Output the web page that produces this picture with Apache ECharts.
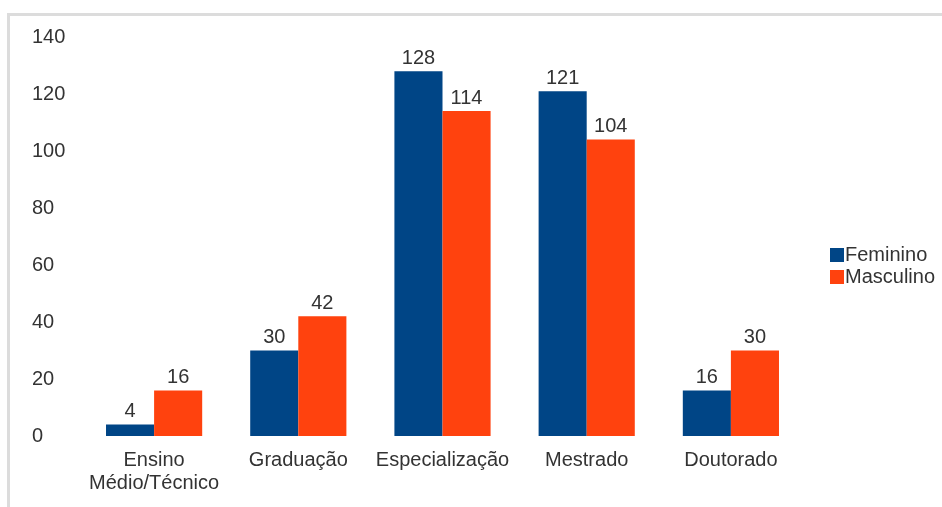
<!DOCTYPE html>
<html>
<head>
<meta charset="utf-8">
<script src="https://cdn.jsdelivr.net/npm/echarts@6/dist/echarts.min.js"></script>
<style>
html,body{margin:0;padding:0;background:#fff;}
#chart{width:942px;height:507px;}
</style>
</head>
<body>
<div id="chart"></div>
<script>
const categories = ['Ensino\nMédio/Técnico', 'Graduação', 'Especialização', 'Mestrado', 'Doutorado'];
const feminino = [4, 30, 128, 121, 16];
const masculino = [16, 42, 114, 104, 30];
const seriesNames = ['Feminino', 'Masculino'];

const font = 'Liberation Sans, Arial, sans-serif';
const fs = 20;
const chart = echarts.init(document.getElementById('chart'), null, {renderer: 'canvas'});
const labelStyle = {show: true, position: 'top', distance: 3, color: '#333', fontSize: fs, fontFamily: font};
chart.setOption({
  animation: false,
  backgroundColor: '#fff',
  graphic: [{
    type: 'polyline',
    shape: {points: [[8.5, 507], [8.5, 14.5], [942, 14.5]]},
    style: {stroke: '#dcdcdc', lineWidth: 3, fill: null},
    silent: true
  }],
  grid: {left: 82, right: 139, top: 37, bottom: 71, containLabel: false},
  legend: {
    orient: 'vertical', left: 825, top: 240,
    itemWidth: 14, itemHeight: 14, itemGap: 2,
    icon: 'rect',
    textStyle: {color: '#333', fontSize: fs, fontFamily: font, lineHeight: 20, padding: [0, 0, 0, -4]},
    data: seriesNames
  },
  xAxis: {
    type: 'category', data: categories,
    axisLine: {show: false}, axisTick: {show: false},
    axisLabel: {color: '#333', fontSize: fs, fontFamily: font, lineHeight: 23, margin: 13, interval: 0}
  },
  yAxis: {
    type: 'value', min: 0, max: 140, interval: 20,
    splitLine: {show: false}, axisLine: {show: false}, axisTick: {show: false},
    axisLabel: {color: '#333', fontSize: fs, fontFamily: font, align: 'left', margin: 50}
  },
  series: [
    {name: seriesNames[0], type: 'bar', data: feminino, barGap: '0%', barCategoryGap: '33.3%',
     itemStyle: {color: '#004586'}, label: labelStyle},
    {name: seriesNames[1], type: 'bar', data: masculino, barGap: '0%', barCategoryGap: '33.3%',
     itemStyle: {color: '#ff420e'}, label: labelStyle}
  ]
});
</script>
</body>
</html>
